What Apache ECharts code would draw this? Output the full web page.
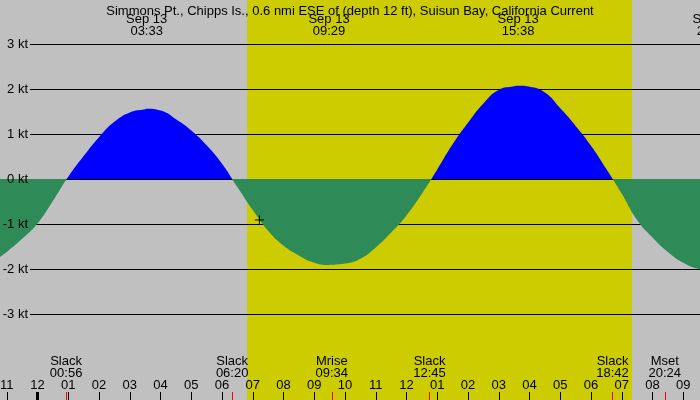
<!DOCTYPE html>
<html lang="en">
<head>
    <meta charset="UTF-8">
    <title>Simmons Pt. current</title>
    <script src="https://cdn.jsdelivr.net/npm/echarts/dist/echarts.min.js"></script>
    <style>
        html, body { margin: 0; padding: 0; background: #c0c0c0; }
    </style>
</head>
<body>
    <div id="main" style="width: 700px;height:400px;"></div>
</body>
<script>
    // hours since midnight Sep 13 (negative = Sep 12)
    var times = [-1.5, -1, -0.5, 0, 0.5, 1, 1.5, 2, 2.5, 3, 3.5, 4, 4.5, 5, 5.5, 6,
        6.5, 7, 7.5, 8, 8.5, 9, 9.5, 10, 10.5, 11, 11.5, 12, 12.5, 13, 13.5, 14,
        14.5, 15, 15.5, 16, 16.5, 17, 17.5, 18, 18.5, 19, 19.5, 20, 20.5, 21, 21.5, 22];
    // current speed in knots
    var speeds = [-1.86, -1.62, -1.33, -0.99, -0.49, 0.05, 0.51, 0.93, 1.27, 1.48, 1.55, 1.52, 1.33, 1.08, 0.75, 0.34,
        -0.18, -0.69, -1.15, -1.48, -1.70, -1.86, -1.91, -1.88, -1.77, -1.52, -1.19, -0.81, -0.33, 0.21, 0.77, 1.25,
        1.68, 1.98, 2.06, 2.05, 1.92, 1.57, 1.18, 0.74, 0.22, -0.33, -0.91, -1.30, -1.62, -1.86, -2.00, -2.05];

    // max flood / ebb shown at the top
    var peakTimes = ['03:33', '09:29', '15:38', '21:58'];
    var peakDates = ['Sep 13', 'Sep 13', 'Sep 13', 'Sep 13'];
    var peakSpeeds = [1.56, -1.91, 2.07, -2.05];

    // slack and moon events at the bottom
    var eventNames = ['Slack', 'Slack', 'Mrise', 'Slack', 'Slack', 'Mset'];
    var eventTimes = ['00:56', '06:20', '09:34', '12:45', '18:42', '20:24'];

    var sunrise = '06:49';
    var sunset = '19:20';
    var dayStart = '00:00';
    var nowMark = ['07:13', -0.91];

    // labels for ticks -2 .. 22
    var hourLabels = ['10', '11', '12', '01', '02', '03', '04', '05', '06', '07', '08', '09', '10',
        '11', '12', '01', '02', '03', '04', '05', '06', '07', '08', '09', '10'];

    var title = 'Simmons Pt., Chipps Is., 0.6 nmi ESE of (depth 12 ft), Suisun Bay, California Current';

    function toHours(s) {
        var p = s.split(':');
        return parseInt(p[0], 10) + parseInt(p[1], 10) / 60;
    }

    var font = 'Liberation Sans';
    var fsize = 13;

    // curve = sampled speeds plus the peak readings, sorted by time
    var curve = [];
    for (var i = 0; i < times.length; i++) {
        curve.push([times[i], speeds[i]]);
    }
    for (var m = 0; m < peakTimes.length; m++) {
        curve.push([toHours(peakTimes[m]), peakSpeeds[m]]);
    }
    curve.sort(function (a, b) { return a[0] - b[0]; });

    var peakLines = [];
    for (var j = 0; j < peakTimes.length; j++) {
        peakLines.push({xAxis: toHours(peakTimes[j]), name: peakDates[j] + '\n' + peakTimes[j]});
    }

    var eventLines = [];
    for (var k = 0; k < eventTimes.length; k++) {
        eventLines.push({xAxis: toHours(eventTimes[k]), name: eventNames[k] + '\n' + eventTimes[k]});
    }
    eventLines.push({
        xAxis: toHours(dayStart),
        lineStyle: {color: '#000', width: 3},
        label: {show: false}
    });

    // same hour scale for every full-width grid (edges sit outside the canvas)
    function hourGrid(top, bottom, height) {
        var g = {left: -24, right: -14, top: top, outerBoundsMode: 'none'};
        if (height != null) g.height = height; else g.bottom = bottom;
        return g;
    }
    function hourAxis(idx, extra) {
        var a = {type: 'value', gridIndex: idx, min: -2, max: 22, interval: 1, show: false};
        return Object.assign(a, extra || {});
    }

    var textLabel = {color: '#000', fontSize: fsize, fontFamily: font, lineHeight: 12};

    var myChart = echarts.init(document.getElementById('main'));
    var option = {
        animation: false,
        backgroundColor: '#c0c0c0',
        textStyle: {fontFamily: font},
        title: {
            text: title,
            left: 'center',
            top: 0,
            textStyle: {fontFamily: font, fontSize: fsize, fontWeight: 'normal', color: '#000'}
        },
        grid: [
            hourGrid(0, 0),                                           // background / daylight
            {left: 30, right: 0, top: 44, bottom: 86, outerBoundsMode: 'none'},  // kt lines + labels
            hourGrid(44, 86),                                         // current curve
            hourGrid(392, 0),                                         // hour ticks
            hourGrid(38, null, 4)                                     // peak labels sit above this
        ],
        xAxis: [
            hourAxis(0),
            {type: 'value', gridIndex: 1, min: 0, max: 1, show: false},
            hourAxis(2),
            hourAxis(3, {
                show: true,
                z: 6,
                position: 'bottom',
                axisLine: {show: false},
                splitLine: {show: false},
                axisTick: {show: true, inside: true, length: 8, lineStyle: {color: '#000', width: 1}},
                axisLabel: {
                    show: true, inside: true, margin: 8,
                    color: '#000', fontSize: fsize, fontFamily: font,
                    showMinLabel: true, showMaxLabel: true,
                    formatter: function (v) { return hourLabels[Math.round(v) + 2]; }
                }
            }),
            hourAxis(4)
        ],
        yAxis: [
            {type: 'value', gridIndex: 0, min: 0, max: 1, show: false},
            {
                type: 'value', gridIndex: 1, position: 'left', min: -3, max: 3, interval: 1, z: 2,
                axisLine: {show: false}, axisTick: {show: false}, axisLabel: {show: false},
                splitLine: {show: true, lineStyle: {color: '#000', width: 1}}
            },
            {
                type: 'value', gridIndex: 1, position: 'left', offset: 0, min: -3, max: 3, interval: 1, z: 6,
                axisLine: {show: false}, axisTick: {show: false}, splitLine: {show: false},
                axisLabel: {margin: 2, color: '#000', fontSize: fsize, fontFamily: font, formatter: '{value} kt'}
            },
            {type: 'value', gridIndex: 2, min: -3, max: 3, show: false},
            {type: 'value', gridIndex: 3, min: 0, max: 1, show: false},
            {type: 'value', gridIndex: 4, min: 0, max: 1, show: false}
        ],
        visualMap: {
            show: false,
            type: 'piecewise',
            seriesIndex: 1,
            dimension: 1,
            pieces: [
                {gt: 0, lte: 5, color: '#0000ff'},
                {gte: -5, lte: 0, color: '#2e8b57'}
            ]
        },
        series: [
            {
                // daylight band
                type: 'line', xAxisIndex: 0, yAxisIndex: 0, data: [], z: 1, silent: true,
                markArea: {
                    silent: true,
                    itemStyle: {color: '#cccc00'},
                    data: [[{xAxis: toHours(sunrise)}, {xAxis: toHours(sunset)}]]
                }
            },
            {
                type: 'line', xAxisIndex: 2, yAxisIndex: 3, data: curve, z: 3,
                smooth: 0.5, showSymbol: false, silent: true,
                lineStyle: {width: 0, opacity: 0},
                areaStyle: {opacity: 1}
            },
            {
                // current time cross
                type: 'scatter', xAxisIndex: 2, yAxisIndex: 3, z: 7, silent: true,
                data: [[toHours(nowMark[0]), nowMark[1]]],
                symbol: 'path://M0,4H8M4,0V8',
                symbolSize: 9,
                itemStyle: {color: 'none', borderColor: '#000', borderWidth: 1, opacity: 1}
            },
            {
                // event ticks and labels
                type: 'line', xAxisIndex: 3, yAxisIndex: 4, data: [], z: 5, silent: true,
                markLine: {
                    silent: true,
                    symbol: ['none', 'none'],
                    lineStyle: {color: '#ff0000', width: 1, type: 'solid'},
                    label: Object.assign({show: true, position: 'end', distance: 13, formatter: '{b}'}, textLabel),
                    data: eventLines
                }
            },
            {
                // peak labels (line itself transparent)
                type: 'line', xAxisIndex: 4, yAxisIndex: 5, data: [], z: 5, silent: true,
                markLine: {
                    silent: true,
                    symbol: ['none', 'none'],
                    lineStyle: {color: 'rgba(0,0,0,0)', width: 1, type: 'solid'},
                    label: Object.assign({show: true, position: 'end', distance: 1, formatter: '{b}'}, textLabel),
                    data: peakLines
                }
            }
        ]
    };
    myChart.setOption(option);
</script>
</html>
